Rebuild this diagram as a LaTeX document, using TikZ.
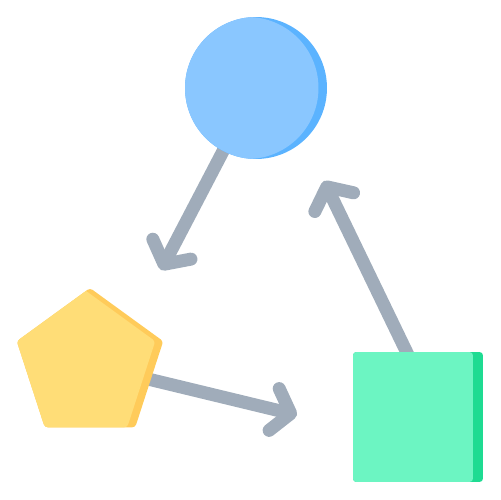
\documentclass[tikz,border=0pt]{standalone}
\usepackage{tikz}
\usetikzlibrary{arrows.meta}
\usetikzlibrary{backgrounds}
\usetikzlibrary{shapes.geometric}
\definecolor{linkgray}{RGB}{160,172,186}
\definecolor{bluelight}{RGB}{138,199,255}
\definecolor{bluedark}{RGB}{91,179,255}
\definecolor{yellowlight}{RGB}{255,221,119}
\definecolor{yellowdark}{RGB}{255,203,90}
\definecolor{greenlight}{RGB}{108,245,194}
\definecolor{greendark}{RGB}{30,219,146}
\tikzset{
    blob/.style={inner sep=0pt, outer sep=0pt},
    link/.style={draw=linkgray, line width=0.26cm, line cap=round, line join=round,
        -{Straight Barb[round, length=0.34cm, width=0.86cm]}}
}

\begin{document}
\begin{tikzpicture}[x=0.02cm, y=-0.02cm]
	\useasboundingbox (0,0) rectangle (500,500);
	% circle
	\node[blob, circle, minimum size=2.84cm, fill=bluedark,
	    path picture={\fill[bluelight] ([xshift=-0.17cm]path picture bounding box.center) circle (1.42cm);}]
	    (circ) at (256,88) {};
	% pentagon
	\node[blob, regular polygon, regular polygon sides=5, minimum size=3.08cm, rounded corners=0.06cm, fill=yellowdark,
	    path picture={\node[blob, regular polygon, regular polygon sides=5, minimum size=3.08cm, rounded corners=0.06cm,
	        fill=yellowlight, anchor=north] at ([xshift=-0.16cm]path picture bounding box.north) {};}]
	    (penta) at (90,365) {};
	% square
	\node[blob, rectangle, minimum size=2.6cm, rounded corners=0.07cm, fill=greendark,
	    path picture={\fill[greenlight] (path picture bounding box.south west) rectangle ([xshift=-0.2cm]path picture bounding box.north east);}]
	    (sq) at (418,417) {};

	% tips of the arrows
	\coordinate (tipA) at (161,270);
	\coordinate (tipB) at (297,415);
	\coordinate (tipC) at (324,181);

	% arrows behind the shapes
	\begin{scope}[on background layer]
	    \draw [link] (circ.center) -- (tipA);
	    \draw [link] (penta.center) -- (tipB);
	    \draw [link] ([xshift=0.4cm]sq.center) -- (tipC);
	\end{scope}
\end{tikzpicture}
\end{document}
